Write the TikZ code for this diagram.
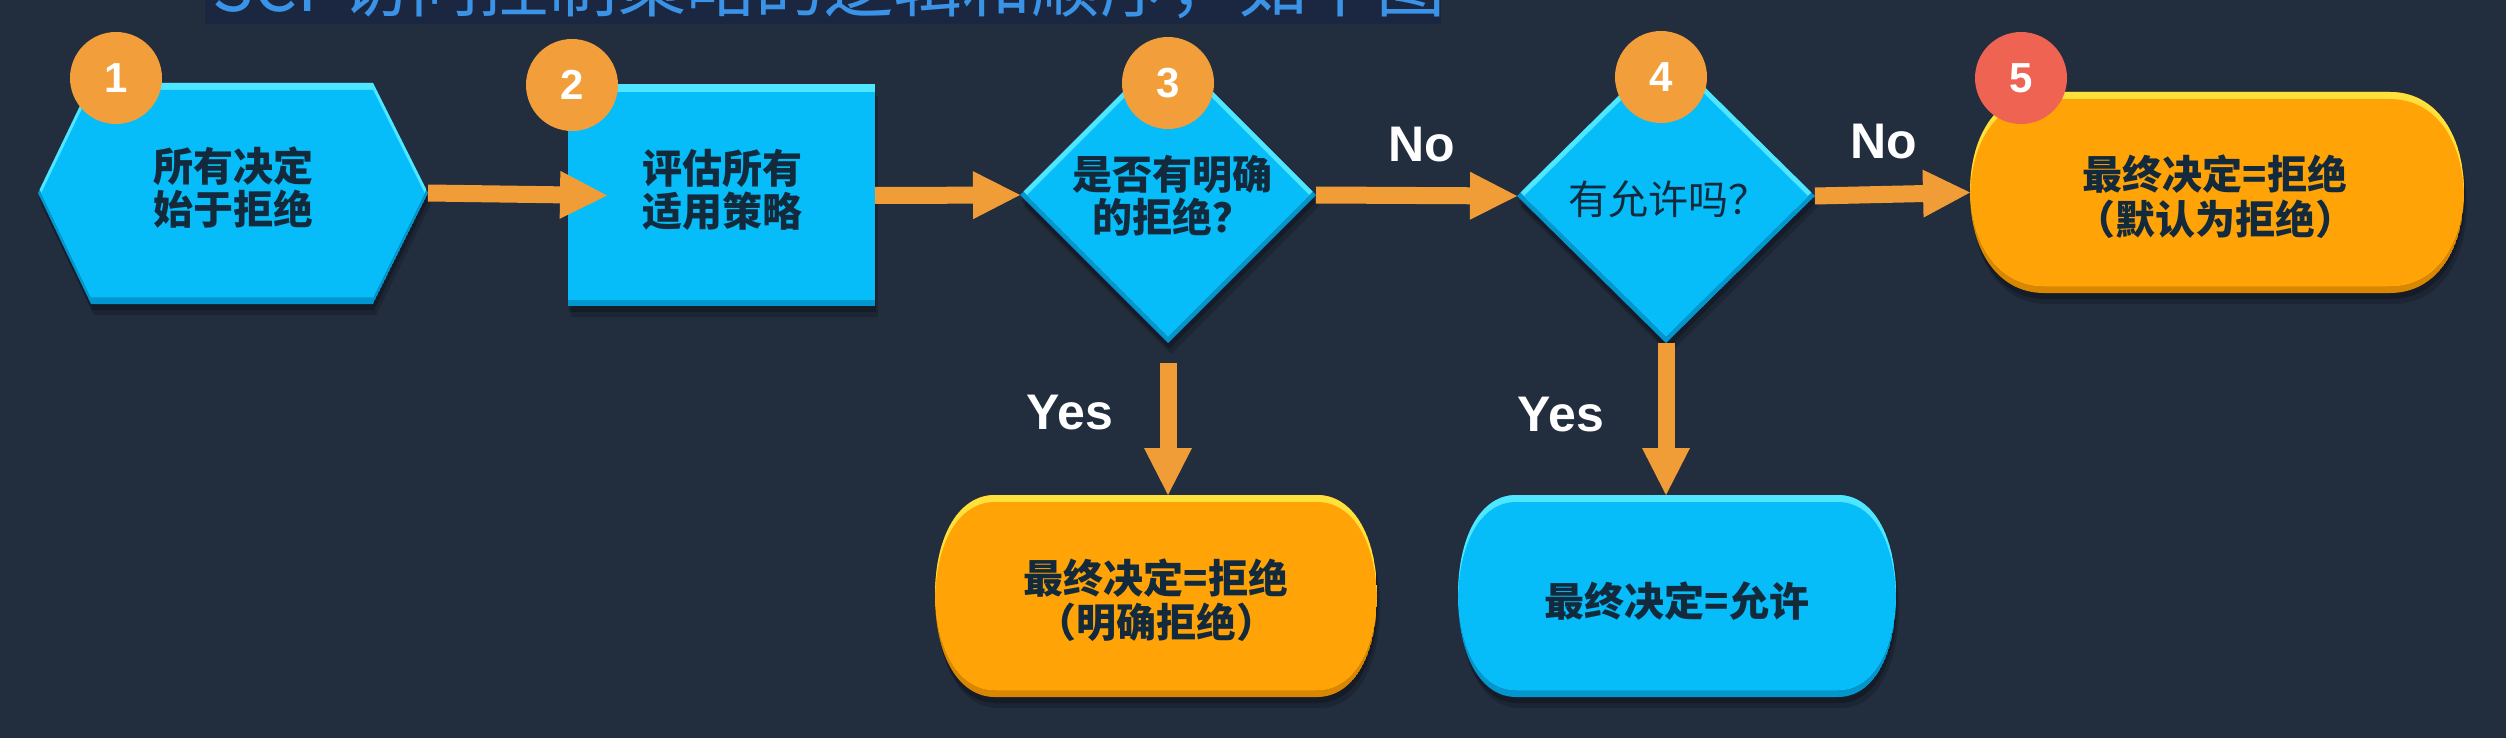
\documentclass[tikz,border=0pt]{standalone}
\usepackage{fontspec}
\usetikzlibrary{arrows.meta}
\newfontfamily\cjk{Noto Sans CJK SC}
\newfontfamily\lat{Liberation Sans}
\definecolor{bg}{HTML}{222D3E}
\definecolor{band}{HTML}{1B2740}
\definecolor{ttl}{HTML}{3A93E6}
\definecolor{cy}{HTML}{06BCF9}
\definecolor{cyL}{HTML}{4FE6FF}
\definecolor{cyD}{HTML}{0296CF}
\definecolor{orb}{HTML}{FFA306}
\definecolor{orL}{HTML}{FFE13C}
\definecolor{orD}{HTML}{D98600}
\definecolor{bdg}{HTML}{F29E3A}
\definecolor{redb}{HTML}{EE6352}
\definecolor{arw}{HTML}{F09D38}
\definecolor{txtc}{HTML}{132A3D}
% #1 path, #2 base, #3 light, #4 dark
\newcommand\bevel[4]{%
  \fill[black,opacity=0.16,shift={(3,11)}] #1;
  \fill[black,opacity=0.22,shift={(1,6)}] #1;
  \begin{scope}
    \clip #1;
    \fill[#4] #1;
    \fill[#3,shift={(0,-7)}] #1;
    \begin{scope}
      \clip[shift={(0,-7)}] #1;
      \fill[#2,shift={(0,7)}] #1;
    \end{scope}
  \end{scope}}
\tikzset{
  anch/.style={draw=none,fill=none,inner sep=0pt,outer sep=0pt,rectangle},
  txtb/.style={text=txtc,align=center,inner sep=0pt,font=\cjk\bfseries\fontsize{40}{43}\selectfont},
  txtr/.style={text=txtc,align=center,inner sep=0pt,font=\cjk\fontsize{40}{43}\selectfont},
  lbl/.style={text=white,inner sep=0pt,font=\lat\bfseries\fontsize{50}{50}\selectfont},
  badge/.style={circle,minimum size=92pt,inner sep=0pt,text=white,font=\lat\bfseries\fontsize{42}{42}\selectfont},
  arr/.style={draw=arw,line width=17pt,-{Triangle[length=47pt,width=48pt,line width=0pt]}},
}
\begin{document}
\begin{tikzpicture}[x=1pt,y=-1pt]
\fill[bg] (0,0) rectangle (2506,738);
\useasboundingbox (0,0) rectangle (2506,738);

% title band (cut off at top)
\fill[band] (205,0) rectangle (1441,24);
\begin{scope}
  \clip (205,0) rectangle (1441,24);
  \node[anchor=base west,inner sep=0pt,text=ttl,font=\cjk\fontsize{69}{69}\selectfont] (title) at (212,12) {SCP访问控制策略的逻辑和顺序，如下图};
\end{scope}

% shapes
\bevel{(38,193) -- (91,83) -- (373,83) -- (428,193) -- (373,304) -- (91,304) -- cycle}{cy}{cyL}{cyD}
\bevel{(568,85) rectangle (875,306)}{cy}{cyL}{cyD}
\bevel{(1168,47) -- (1316,195) -- (1168,343) -- (1020,195) -- cycle}{cy}{cyL}{cyD}
\bevel{(1666,49) -- (1815,196) -- (1666,343) -- (1517,196) -- cycle}{cy}{cyL}{cyD}
\bevel{(2044,92) -- (2390,92) .. controls (2434.4,92) and (2464,132.2) .. (2464,192.5) .. controls (2464,252.8) and (2434.4,293) .. (2390,293) -- (2044,293) .. controls (1999.6,293) and (1970,252.8) .. (1970,192.5) .. controls (1970,132.2) and (1999.6,92) .. (2044,92) -- cycle}{orb}{orL}{orD}
\bevel{(995,495) -- (1317,495) .. controls (1353,495) and (1377,535.4) .. (1377,596) .. controls (1377,656.6) and (1353,697) .. (1317,697) -- (995,697) .. controls (959,697) and (935,656.6) .. (935,596) .. controls (935,535.4) and (959,495) .. (995,495) -- cycle}{orb}{orL}{orD}
\bevel{(1516,495) -- (1838,495) .. controls (1872.8,495) and (1896,535.4) .. (1896,596) .. controls (1896,656.6) and (1872.8,697) .. (1838,697) -- (1516,697) .. controls (1481.2,697) and (1458,656.6) .. (1458,596) .. controls (1458,535.4) and (1481.2,495) .. (1516,495) -- cycle}{cy}{cyL}{cyD}

% anchor nodes for the shapes
\node[anch,minimum width=390pt,minimum height=221pt] (n1) at (233,193) {};
\node[anch,minimum width=307pt,minimum height=221pt] (n2) at (721.5,195.5) {};
\node[anch,minimum width=296pt,minimum height=296pt] (n3) at (1168,195) {};
\node[anch,minimum width=298pt,minimum height=294pt] (n4) at (1666,196) {};
\node[anch,minimum width=494pt,minimum height=201pt] (n5) at (2217,192.5) {};
\node[anch,minimum width=442pt,minimum height=202pt] (n6) at (1156,596) {};
\node[anch,minimum width=438pt,minimum height=202pt] (n7) at (1677,596) {};

% connectors
\draw[arr] (n1.east) -- ([xshift=39pt]n2.west);
\draw[arr] (n2.east) -- (n3.west);
\draw[arr] (n3.east) -- (n4.west);
\draw[arr] (n4.east) -- (n5.west);
\coordinate (s3) at (1168,363);
\draw[arr] (s3) -- (s3 |- n6.north);
\draw[arr] (n4.south) -- (n4.south |- n7.north);

% labels
\node[lbl] (no1) at (1422,145) {No};
\node[lbl] (no2) at (1884,142) {No};
\node[lbl] (yes1) at (1070,413) {Yes};
\node[lbl] (yes2) at (1561,415) {Yes};

% badges
\node[badge,fill=bdg] (b1) at (116,78) {1};
\node[badge,fill=bdg] (b2) at (572,85) {2};
\node[badge,fill=bdg] (b3) at (1168,83) {3};
\node[badge,fill=bdg] (b4) at (1661,77) {4};
\node[badge,fill=redb] (b5) at (2021,78) {5};

% texts
\node[txtb] (t1) at (233,188) {所有决定\\始于拒绝};
\node[txtb] (t2) at (722,190) {评估所有\\适用策略};
\node[txtb] (t3) at (1172,196) {是否有明确\\的拒绝？};
\node[txtr] (t4) at (1668,199) {有允许吗？};
\node[txtb,font=\cjk\bfseries\fontsize{40}{45}\selectfont] (t5) at (2215,197) {最终决定=拒绝\\（默认为拒绝）};
\node[txtb,font=\cjk\bfseries\fontsize{40}{44}\selectfont] (t6) at (1156,600) {最终决定=拒绝\\（明确拒绝）};
\node[txtb] (t7) at (1677,601) {最终决定=允许};
\end{tikzpicture}
\end{document}
